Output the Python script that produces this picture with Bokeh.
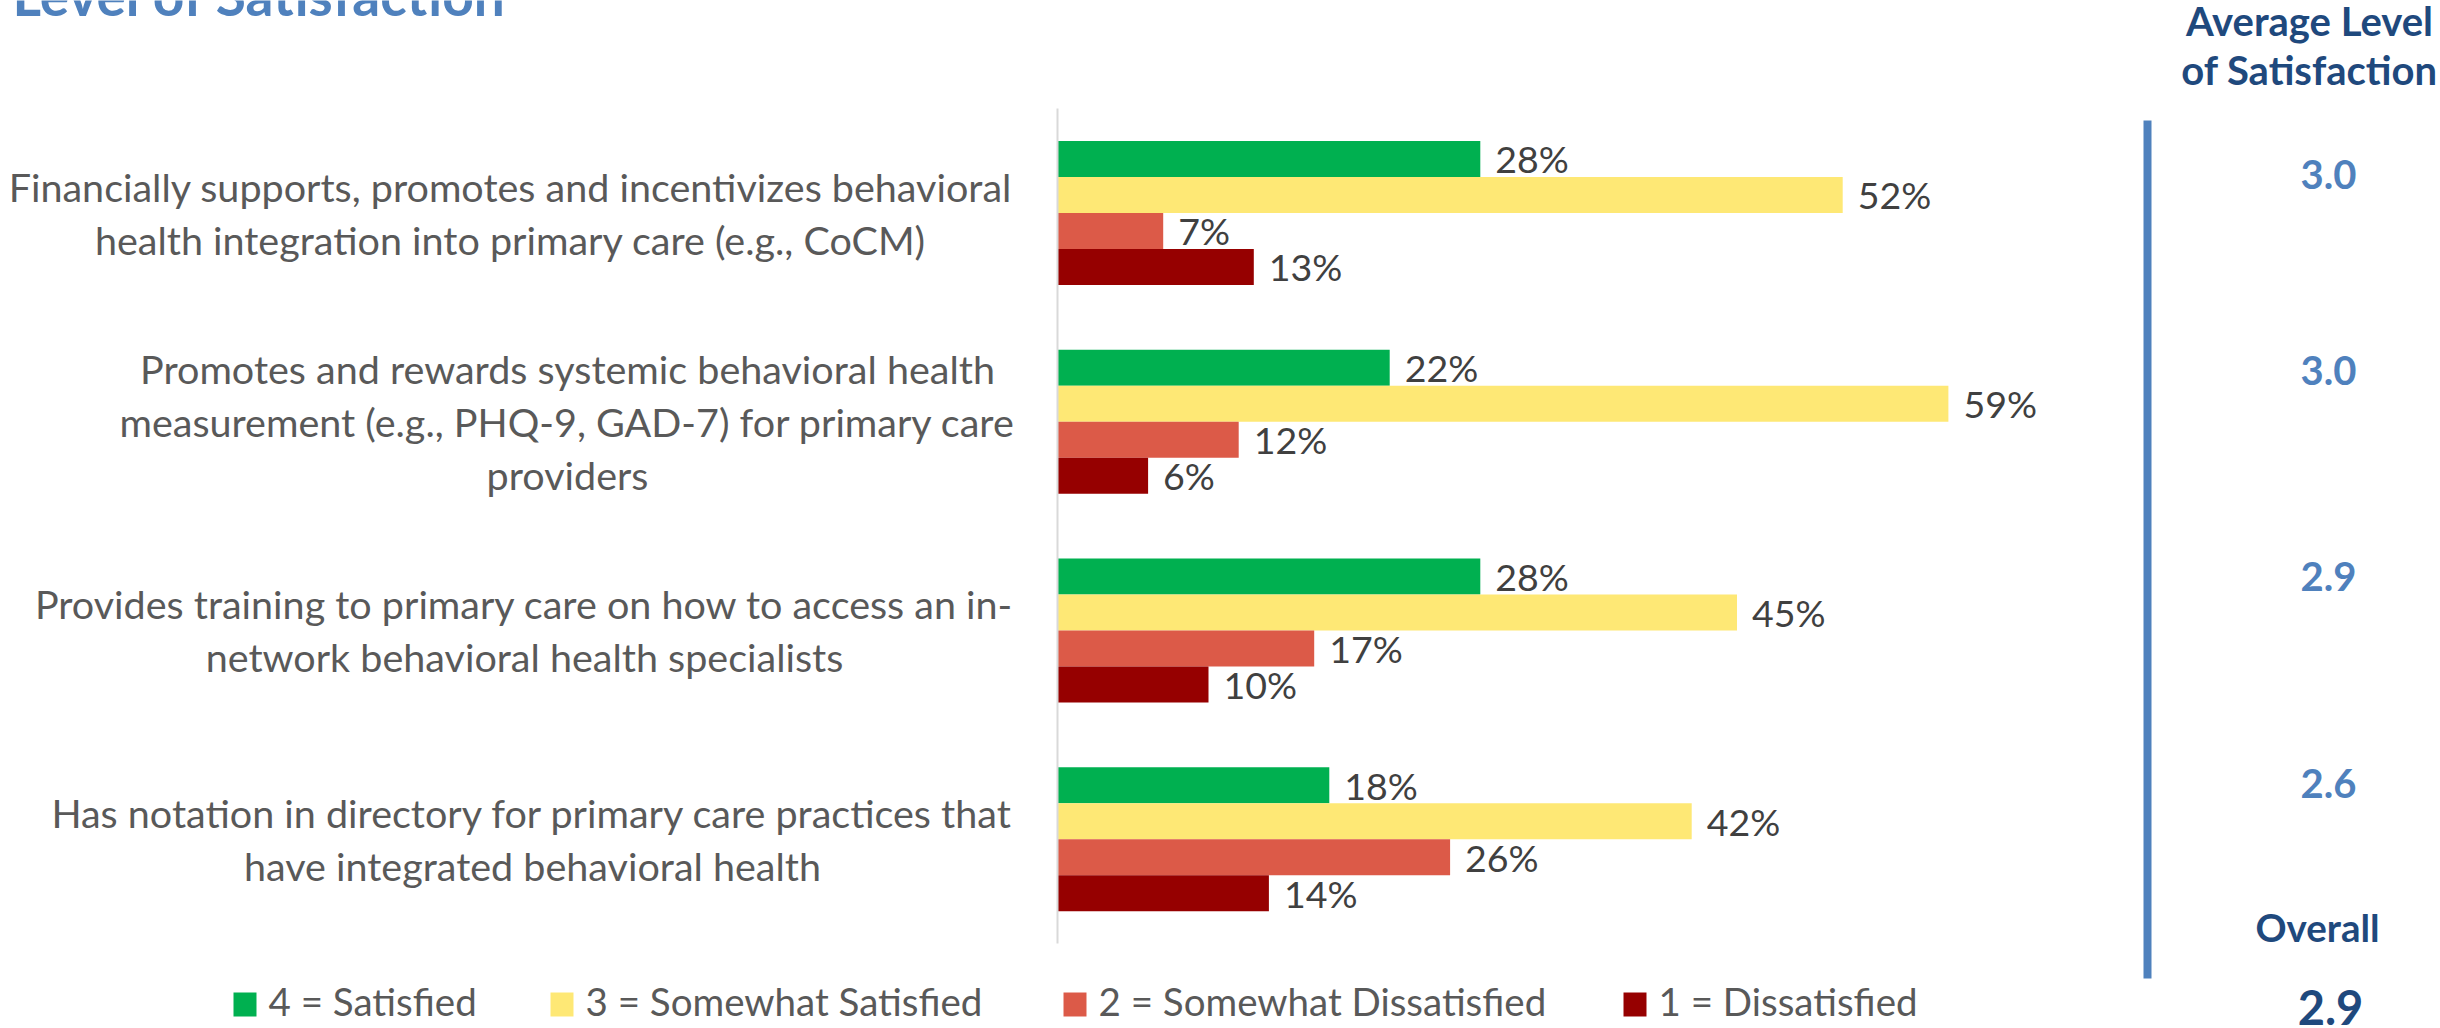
from bokeh.plotting import figure
from bokeh.models import Range1d
from bokeh.core.properties import value
from bokeh.embed import file_html
from bokeh.resources import INLINE

# ---------------- data ----------------
categories = [
    "Financially supports, promotes and incentivizes behavioral\nhealth integration into primary care (e.g., CoCM)",
    "Promotes and rewards systemic behavioral health\nmeasurement (e.g., PHQ-9, GAD-7) for primary care\nproviders",
    "Provides training to primary care on how to access an in-\nnetwork behavioral health specialists",
    "Has notation in directory for primary care practices that\nhave integrated behavioral health",
]
series_names = ["4 = Satisfied", "3 = Somewhat Satisfied", "2 = Somewhat Dissatisfied", "1 = Dissatisfied"]
satisfied = [28, 22, 28, 18]
somewhat_satisfied = [52, 59, 45, 42]
somewhat_dissatisfied = [7, 12, 17, 26]
dissatisfied = [13, 6, 10, 14]
avg_satisfaction = [3.0, 3.0, 2.9, 2.6]
overall_avg = 2.9
title_text = "Level of Satisfaction"
avg_header = ["Average Level", "of Satisfaction"]
overall_label = "Overall"

# ---------------- layout / style ----------------
W, H = 2440, 1028
X0 = 1057.0          # pixel position of 0 %
PPP = 15.1           # pixels per percent
BAND_TOP = 108.0     # top of category bands (px)
BAND = 208.75        # band height (px)
BAR_H = 36.0 / BAND  # bar thickness in band units

def xd(px):
    return (px - X0) / PPP

def yd(px):
    return (px - BAND_TOP) / BAND - 0.5

colors = ["#00B050", "#FEE875", "#DC5A48", "#960000"]
series = [satisfied, somewhat_satisfied, somewhat_dissatisfied, dissatisfied]
FONT = value("Lato")

p = figure(width=W, height=H, x_range=Range1d(xd(0), xd(W)), y_range=Range1d(yd(H), yd(0)),
           output_backend="svg", toolbar_location=None, min_border=0,
           x_axis_location=None, y_axis_location=None)
p.outline_line_color = None
p.grid.visible = False
p.background_fill_color = "white"

n = len(categories)
# bars and value labels
for j, (vals, col) in enumerate(zip(series, colors)):
    ys = [i + (j - 1.5) * BAR_H for i in range(n)]
    p.hbar(y=ys, left=0, right=vals, height=BAR_H, fill_color=col, line_color=None)
    p.text(x=vals, y=ys, text=[f"{v}%" for v in vals], x_offset=15,
           text_align="left", text_baseline="middle", text_font=FONT,
           text_font_size="37.5px", text_color="#404040")

# category axis line
p.segment(x0=[0], y0=[-0.5], x1=[0], y1=[n - 0.5], line_color="#D9D9D9", line_width=2)

# category labels: each block centred, lines spaced 53 px
label_cx = [510, 567, 524, 532]
LINE_GAP = 53
lx, ly, lt, lo = [], [], [], []
for i, (cat, cx) in enumerate(zip(categories, label_cx)):
    lines = cat.split("\n")
    for k, line in enumerate(lines):
        lx.append(xd(cx))
        ly.append(i)
        lt.append(line)
        lo.append((k - (len(lines) - 1) / 2) * LINE_GAP)
p.text(x=lx, y=ly, text=lt, y_offset=lo, text_align="center", text_baseline="middle",
       text_font=FONT, text_font_size="39.5px", text_color="#595959")

# title (cut off at top as in original)
p.text(x=[xd(12)], y=[yd(-6)], text=[title_text], text_align="left",
       text_baseline="middle", text_font=FONT, text_font_style="bold",
       text_font_size="55px", text_color="#4F81BD")

# right column: header
p.text(x=[xd(2309), xd(2309)], y=[yd(20), yd(69)], text=avg_header, text_align="center",
       text_baseline="middle", text_font=FONT, text_font_style="bold",
       text_font_size="40px", text_color="#1F497D")

# vertical separator
p.segment(x0=[xd(2147)], y0=[yd(120)], x1=[xd(2147)], y1=[yd(978)],
          line_color="#4F81BD", line_width=8)

# averages
avg_mid_px = [174, 370, 576, 783]
p.text(x=[xd(2328)] * n, y=[yd(b) for b in avg_mid_px],
       text=[f"{a:.1f}" for a in avg_satisfaction], text_align="center",
       text_baseline="middle", text_font=FONT, text_font_style="bold",
       text_font_size="40px", text_color="#4F81BD")

p.text(x=[xd(2317)], y=[yd(926)], text=[overall_label], text_align="center",
       text_baseline="middle", text_font=FONT, text_font_style="bold",
       text_font_size="38.5px", text_color="#1F497D")
p.text(x=[xd(2330)], y=[yd(1007)], text=[f"{overall_avg:.1f}"], text_align="center",
       text_baseline="middle", text_font=FONT, text_font_style="bold",
       text_font_size="47px", text_color="#1F497D")

# legend (manual)
legend_x_px = [233, 550, 1063, 1623]
leg_y = yd(1004)
for lxp, col, name in zip(legend_x_px, colors, series_names):
    p.rect(x=[xd(lxp + 11.5)], y=[leg_y], width=23, height=24, width_units="screen",
           height_units="screen", fill_color=col, line_color=None)
    p.text(x=[xd(lxp + 35)], y=[yd(1000)], text=[name], text_align="left",
           text_baseline="middle", text_font=FONT, text_font_size="38.5px",
           text_color="#595959")

open("out.html", "w").write(file_html(p, INLINE))
